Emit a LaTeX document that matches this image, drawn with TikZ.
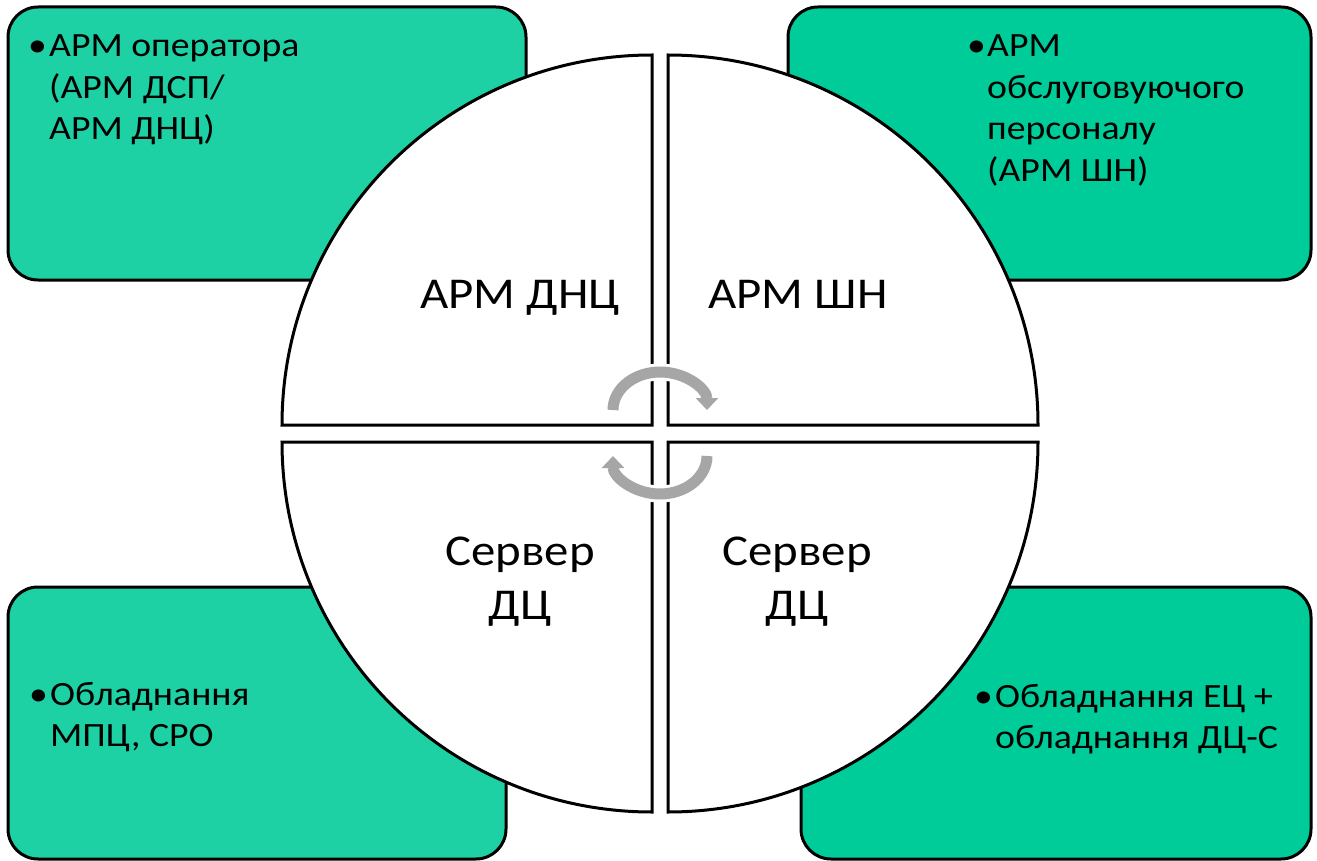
\documentclass[tikz,border=0pt]{standalone}
\usepackage{fontspec}
\setmainfont[FakeStretch=1.11]{Carlito}
\usetikzlibrary{arrows.meta}

\definecolor{greenlight}{HTML}{1DD1A5}
\definecolor{greendark}{HTML}{00CC99}
\definecolor{cyclegray}{HTML}{A6A6A6}

\tikzset{
    infobox/.style={draw=black, line width=3pt, rounded corners=30pt},
    quarter/.style={draw=black, fill=white, line width=3pt},
    cyclehalo/.style={draw=white, line width=17pt},
    cyclearrow/.style={draw=cyclegray, line width=11pt, -{Triangle[width=22pt,length=12pt]}},
    listtext/.style={inner sep=0pt, font=\fontsize{34}{41.5}\selectfont},
    quartertext/.style={inner sep=0pt, font=\fontsize{44}{54}\selectfont}
}

\begin{document}
\begin{tikzpicture}[x=1pt,y=-1pt]
    \useasboundingbox (0,0) rectangle (1317,861);
    % corner boxes
    \filldraw [infobox, fill=greenlight] (8,7) rectangle (526,280);
    \filldraw [infobox, fill=greendark] (788,7) rectangle (1311,280);
    \filldraw [infobox, fill=greenlight] (8,587) rectangle (506,859);
    \filldraw [infobox, fill=greendark] (801,587) rectangle (1311,859);
    % four quarters of the circle
    \draw [quarter] (652,425) -- (652,55) arc[start angle=90, end angle=180, radius=370pt] -- cycle;
    \draw [quarter] (668,425) -- (668,55) arc[start angle=90, end angle=0, radius=370pt] -- cycle;
    \draw [quarter] (652,442) -- (282,442) arc[start angle=180, end angle=270, radius=370pt] -- cycle;
    \draw [quarter] (668,442) -- (668,812) arc[start angle=270, end angle=360, radius=370pt] -- cycle;
    % cycle arrows
    \draw [cyclehalo] (613,410) arc[start angle=180, end angle=8, x radius=47pt, y radius=38pt];
    \draw [cyclearrow] (613,410) arc[start angle=180, end angle=0, x radius=47pt, y radius=38pt];
    \draw [cyclehalo] (707,456) arc[start angle=0, end angle=-172, x radius=47pt, y radius=38pt];
    \draw [cyclearrow] (707,456) arc[start angle=0, end angle=-180, x radius=47pt, y radius=38pt];
    % quarter labels
    \node (dnc) [quartertext, anchor=base] at (520,308) {АРМ ДНЦ};
    \node (shn) [quartertext, anchor=base] at (798,308) {АРМ ШН};
    \node (serverl) [quartertext, anchor=base] at (520,565) {\begin{tabular}[t]{@{}c@{}}Сервер\\ДЦ\end{tabular}};
    \node (serverr) [quartertext, anchor=base] at (797,565) {\begin{tabular}[t]{@{}c@{}}Сервер\\ДЦ\end{tabular}};
    % box lists
    \node (operator) [listtext, anchor=base west] at (28,57)
        {\begin{tabular}[t]{@{}p{21pt}@{}l@{}}•&АРМ оператора\\&(АРМ ДСП/\\&АРМ ДНЦ)\end{tabular}};
    \node (staff) [listtext, anchor=base west] at (967,57)
        {\begin{tabular}[t]{@{}p{20pt}@{}l@{}}•&АРМ\\&обслуговуючого\\&персоналу\\&(АРМ ШН)\end{tabular}};
    \node (mpc) [listtext, anchor=base west] at (29,705)
        {\begin{tabular}[t]{@{}p{21pt}@{}l@{}}•&Обладнання\\&МПЦ, СРО\end{tabular}};
    \node (ec) [listtext, anchor=base west] at (974,707)
        {\begin{tabular}[t]{@{}p{21pt}@{}l@{}}•&Обладнання ЕЦ +\\&обладнання ДЦ-С\end{tabular}};
\end{tikzpicture}
\end{document}
